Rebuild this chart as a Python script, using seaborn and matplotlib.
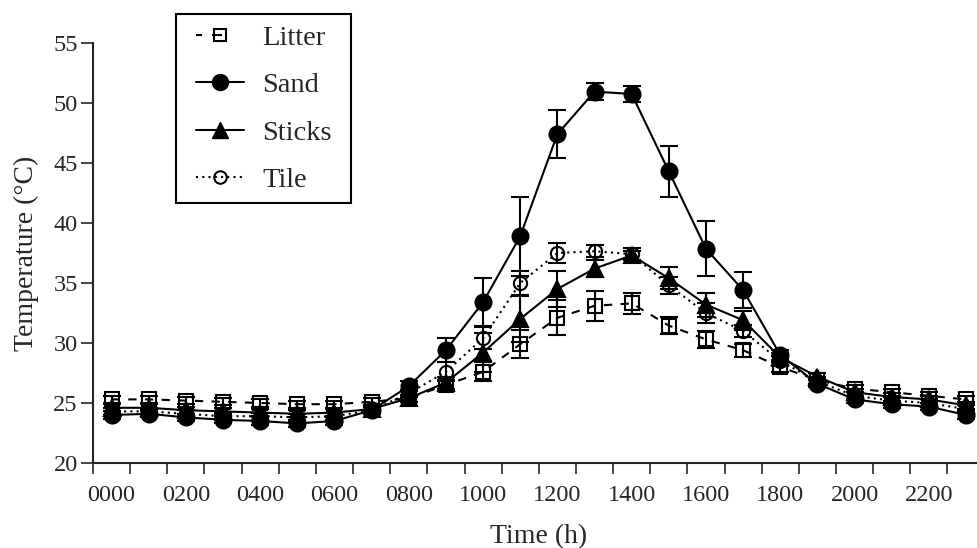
import matplotlib
matplotlib.use("Agg")
import matplotlib.pyplot as plt
from matplotlib.lines import Line2D
from matplotlib.patches import Rectangle
import seaborn as sns
import pandas as pd

# ---- data ----
hours = list(range(24))
tick_positions = [0, 2, 4, 6, 8, 10, 12, 14, 16, 18, 20, 22]
tick_labels = ["0000", "0200", "0400", "0600", "0800", "1000",
               "1200", "1400", "1600", "1800", "2000", "2200"]

litter = [25.3, 25.3, 25.2, 25.1, 25.0, 24.9, 24.9, 25.1, 25.4, 26.5, 27.6, 29.9,
          32.1, 33.1, 33.3, 31.45, 30.3, 29.4, 28.0, 26.9, 26.2, 25.9, 25.6, 25.3]
litter_err = [0.3, 0.3, 0.3, 0.3, 0.3, 0.3, 0.3, 0.3, 0.3, 0.4, 0.8, 1.15,
              1.45, 1.25, 0.9, 0.7, 0.7, 0.55, 0.4, 0.3, 0.3, 0.3, 0.3, 0.3]

sand = [24.0, 24.1, 23.8, 23.6, 23.5, 23.3, 23.5, 24.4, 26.4, 29.4, 33.4, 38.9,
        47.4, 50.95, 50.75, 44.3, 37.85, 34.4, 29.0, 26.6, 25.3, 24.9, 24.7, 24.0]
sand_err = [0.3, 0.3, 0.3, 0.3, 0.3, 0.3, 0.3, 0.3, 0.4, 1.0, 2.0, 3.3,
            2.0, 0.7, 0.7, 2.1, 2.3, 1.5, 0.4, 0.3, 0.3, 0.3, 0.3, 0.3]

sticks = [24.6, 24.6, 24.4, 24.3, 24.2, 24.1, 24.2, 24.5, 25.4, 26.7, 29.2, 32.0,
          34.5, 36.2, 37.3, 35.4, 33.2, 31.9, 28.8, 27.2, 25.9, 25.5, 25.3, 24.8]
sticks_err = [0.3, 0.3, 0.3, 0.3, 0.3, 0.3, 0.3, 0.3, 0.3, 0.5, 1.6, 1.9,
              1.5, 0.7, 0.4, 0.9, 1.0, 0.8, 0.4, 0.3, 0.3, 0.3, 0.3, 0.3]

tile = [24.3, 24.3, 24.1, 23.9, 23.9, 23.8, 23.9, 24.4, 25.8, 27.6, 30.4, 35.0,
        37.5, 37.65, 37.4, 34.8, 32.5, 31.0, 28.5, 26.8, 25.6, 25.2, 25.0, 24.5]
tile_err = [0.3, 0.3, 0.3, 0.3, 0.3, 0.3, 0.3, 0.3, 0.3, 0.8, 0.9, 1.0,
            0.8, 0.5, 0.5, 0.7, 0.8, 0.5, 0.4, 0.3, 0.3, 0.3, 0.3, 0.3]

# ---- style ----
sns.set_style("ticks")
plt.rcParams["font.family"] = ["Liberation Serif", "DejaVu Serif"]

W, H = 977, 548
fig = plt.figure(figsize=(W / 100, H / 100), dpi=100)
ax_left, ax_bottom = 93, 85
ax_w, ax_h = 891.6, 420
ax = fig.add_axes([ax_left / W, ax_bottom / H, ax_w / W, ax_h / H])

LW = 1.5
series = [
    ("Litter", litter, litter_err, "s", "none", (0, (4, 4)), 10),
    ("Sand", sand, sand_err, "o", "black", "-", 11.5),
    ("Sticks", sticks, sticks_err, "^", "black", "-", 11.5),
    ("Tile", tile, tile_err, "o", "none", (0, (1, 2)), 9.5),
]

for name, vals, err, mk, mfc, ls, ms in series:
    df = pd.DataFrame({"hour": hours, "temp": vals})
    sns.lineplot(data=df, x="hour", y="temp", ax=ax, color="black",
                 linewidth=LW, linestyle=ls, marker=mk, markersize=ms,
                 markerfacecolor=mfc, markeredgecolor="black",
                 markeredgewidth=1.5, legend=False, errorbar=None)
    ax.errorbar(hours, vals, yerr=err, fmt="none", ecolor="black",
                elinewidth=1.5, capsize=6.5, capthick=1.5)

ax.set_xlim(-0.5, 23.5)
ax.set_ylim(20, 55)
ax.set_yticks([20, 25, 30, 35, 40, 45, 50, 55])
ax.set_xticks(tick_positions)
ax.set_xticklabels(tick_labels)
ax.set_xticks([h - 0.5 for h in range(25)], minor=True)
ax.tick_params(axis="x", which="major", length=0, pad=16, labelsize=17.5)
ax.tick_params(axis="x", which="minor", length=8, width=1.2, direction="out")
ax.tick_params(axis="y", which="major", length=9, width=1.2, pad=2,
               labelsize=17.5, direction="out")
for s in ("top", "right"):
    ax.spines[s].set_visible(False)
for s in ("left", "bottom"):
    ax.spines[s].set_linewidth(1.5)

ax.set_xlabel("Time (h)", fontsize=20, labelpad=13)
ax.set_ylabel("Temperature (°C)", fontsize=20, labelpad=10)

# legend frame drawn as a rectangle at the reference position
fig.patches.append(Rectangle((176 / W, 1 - 203 / H), 175 / W, 189 / H,
                             transform=fig.transFigure, fill=False,
                             edgecolor="black", linewidth=1.5))

handles = [
    Line2D([], [], color="black", lw=LW, linestyle=(0, (2.9, 4.8, 4.8, 40)),
           marker="s", markersize=9, markerfacecolor="none",
           markeredgecolor="black", markeredgewidth=1.5),
    Line2D([], [], color="black", lw=LW, linestyle="-", marker="o",
           markersize=11.5, markerfacecolor="black", markeredgecolor="black"),
    Line2D([], [], color="black", lw=LW, linestyle="-", marker="^",
           markersize=11.5, markerfacecolor="black", markeredgecolor="black"),
    Line2D([], [], color="black", lw=LW, linestyle=(0, (1, 2)), marker="o",
           markersize=9, markerfacecolor="none", markeredgecolor="black",
           markeredgewidth=1.5),
]
leg = fig.legend(handles, ["Litter", "Sand", "Sticks", "Tile"],
                 loc="upper left", bbox_to_anchor=(196 / W, 1 - 25 / H),
                 bbox_transform=fig.transFigure, borderaxespad=0,
                 fontsize=20.5, frameon=False,
                 handlelength=1.69, handletextpad=0.63, labelspacing=0.75,
                 borderpad=0, numpoints=1)

fig.savefig("out.png", dpi=100)
